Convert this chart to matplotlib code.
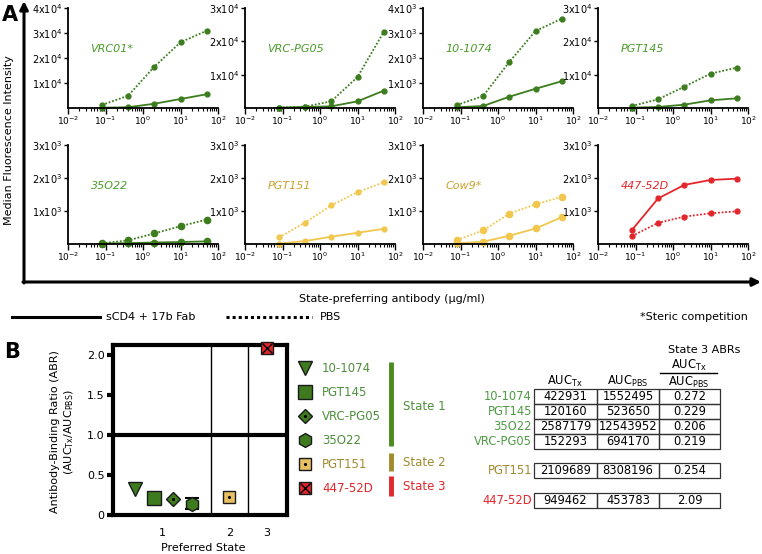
import matplotlib.pyplot as plt
import numpy as np
from matplotlib.ticker import LogLocator, NullFormatter
from matplotlib.patches import Rectangle

# ---- panel A data: MFI vs antibody concentration (ug/ml)
conc = [0.08, 0.4, 2, 10, 50]

names = ['VRC01*', 'VRC-PG05', '10-1074', 'PGT145',
         '35O22', 'PGT151', 'Cow9*', '447-52D']
groups = ['g', 'g', 'g', 'g', 'g', 'y', 'y', 'r']
ymax = [4e4, 3e4, 4e3, 3e4, 3e3, 3e3, 3e3, 3e3]

# sCD4 + 17b Fab
mfi_tx = [
    [100, 300, 1700, 3600, 5500],
    [100, 300, 500, 2000, 5200],
    [30, 80, 450, 770, 1070],
    [100, 300, 1000, 2300, 2900],
    [15, 25, 45, 60, 80],
    [10, 90, 220, 340, 460],
    [20, 70, 250, 470, 810],
    [420, 1380, 1790, 1940, 1980],
]
# PBS
mfi_pbs = [
    [1200, 4900, 16500, 26300, 30900],
    [100, 400, 2000, 9300, 22800],
    [120, 480, 1840, 3080, 3570],
    [600, 2600, 6400, 10300, 12100],
    [20, 110, 320, 540, 740],
    [200, 650, 1170, 1570, 1870],
    [120, 410, 920, 1200, 1430],
    [240, 640, 830, 930, 990],
]

# ---- panel B data
abr_names = ['10-1074', 'PGT145', 'VRC-PG05', '35O22', 'PGT151', '447-52D']
abr_state = [1, 1, 1, 1, 2, 3]
abr_val = [0.33, 0.21, 0.20, 0.14, 0.22, 2.09]
abr_err = [0, 0, 0, 0.07, 0, 0]

tbl_names = ['10-1074', 'PGT145', '35O22', 'VRC-PG05', 'PGT151', '447-52D']
tbl_groups = ['g', 'g', 'g', 'g', 'y', 'r']
auc_tx = [422931, 120160, 2587179, 152293, 2109689, 949462]
auc_pbs = [1552495, 523650, 12543952, 694170, 8308196, 453783]
ratio = ['0.272', '0.229', '0.206', '0.219', '0.254', '2.09']

line_col = {'g': '#3c7d1e', 'y': '#f1c74e', 'r': '#e3262b'}
lab_col = {'g': '#4b9b2b', 'y': '#c9a22f', 'r': '#e3262b'}
leg_col = {'g': '#4d8f3b', 'y': '#a08a30', 'r': '#e3262b'}

plt.rcParams['font.family'] = ['DejaVu Sans']
plt.rcParams['mathtext.default'] = 'regular'

W, H = 762, 554
fig = plt.figure(figsize=(7.62, 5.54), dpi=100)


def px_axes(x0, y0, x1, y1):
    return fig.add_axes([x0 / W, 1 - y1 / H, (x1 - x0) / W, (y1 - y0) / H])


ov = fig.add_axes([0, 0, 1, 1])
ov.set_xlim(0, W)
ov.set_ylim(H, 0)
ov.axis('off')

# ---- panel A
lefts = [68, 245, 423, 598]
rows = [(8, 108), (145, 244)]
for i, name in enumerate(names):
    r, c = divmod(i, 4)
    ax = px_axes(lefts[c], rows[r][0], lefts[c] + 150, rows[r][1])
    g = groups[i]
    ms = 4.5 if name in ('35O22', 'Cow9*') else 3.5
    ax.plot(conc, mfi_tx[i], '-', color=line_col[g], lw=1.3, marker='o', ms=ms, clip_on=False)
    ax.plot(conc, mfi_pbs[i], linestyle=(0, (1, 1)), color=line_col[g], lw=1.3,
            marker='o', ms=ms, clip_on=False)
    ax.set_xscale('log')
    ax.set_xlim(1e-2, 1e2)
    ax.set_ylim(0, ymax[i])
    ax.set_xticks([1e-2, 1e-1, 1, 10, 100])
    ax.set_xticklabels(['$10^{-2}$', '$10^{-1}$', '$10^{0}$', '$10^{1}$', '$10^{2}$'])
    ax.xaxis.set_minor_locator(LogLocator(base=10, subs=np.arange(2, 10)))
    ax.xaxis.set_minor_formatter(NullFormatter())
    e = int(np.floor(np.log10(ymax[i])))
    step = 10 ** e
    yt = np.arange(step, ymax[i] + step / 2, step)
    ax.set_yticks(yt)
    ax.set_yticklabels(['%dx$10^{%d}$' % (round(v / step), e) for v in yt])
    ax.tick_params(labelsize=7, width=1, pad=1)
    ax.tick_params(axis='x', labelsize=6.5)
    ax.tick_params(axis='x', which='major', length=4)
    ax.tick_params(axis='x', which='minor', length=2, width=0.8)
    ax.tick_params(axis='y', length=3)
    for s in ('top', 'right'):
        ax.spines[s].set_visible(False)
    for s in ('left', 'bottom'):
        ax.spines[s].set_linewidth(1.3)
    ax.patch.set_alpha(0)
    ax.text(0.15, 0.59, name, transform=ax.transAxes, style='italic',
            color=lab_col[g], fontsize=8, va='center')

# big axis arrows
ov.annotate('', xy=(24, 1), xytext=(24, 283),
            arrowprops=dict(arrowstyle='-|>', lw=2.2, color='k', mutation_scale=12,
                            shrinkA=0, shrinkB=0))
ov.annotate('', xy=(761, 282), xytext=(23, 282),
            arrowprops=dict(arrowstyle='-|>', lw=2.2, color='k', mutation_scale=12,
                            shrinkA=0, shrinkB=0))
ov.text(2, 15, 'A', fontsize=15, weight='bold', va='center')
ov.text(9, 140, 'Median Fluorescence Intensity', rotation=90, ha='center', va='center', fontsize=8)
ov.text(392, 299, 'State-preferring antibody (\u03bcg/ml)', ha='center', va='center', fontsize=8)

# line legend
ov.plot([12, 100], [317, 317], color='k', lw=2.2)
ov.text(106, 317, 'sCD4 + 17b Fab', va='center', fontsize=8)
ov.plot([226, 312], [317, 317], color='k', lw=2.2, linestyle=(0, (1, 1)))
ov.text(320, 317, 'PBS', va='center', fontsize=8)
ov.text(748, 317, '*Steric competition', ha='right', va='center', fontsize=8)

# ---- panel B
ov.text(4, 352, 'B', fontsize=15, weight='bold', va='center')
axb = px_axes(113, 345, 287, 515)
axb.set_xlim(0, 4.7)
axb.set_ylim(0, 2.125)
for s in axb.spines.values():
    s.set_linewidth(3)
axb.axhline(1.0, color='k', lw=3)
axb.axvline(2.65, color='k', lw=1)
axb.axvline(3.65, color='k', lw=1)
axb.set_yticks([0, 0.5, 1.0, 1.5, 2.0])
axb.set_yticklabels(['0', '0.5', '1.0', '1.5', '2.0'])
axb.set_xticks([1.32, 3.14, 4.14])
axb.set_xticklabels(['1', '2', '3'])
axb.tick_params(axis='y', width=3, length=4, labelsize=8, pad=2)
axb.tick_params(axis='x', length=0, labelsize=8, pad=9)

state_start = {1: 0.0, 2: 2.65, 3: 3.65}
offsets = [0.59, 1.11, 1.62, 2.13, 0.49, 0.51]
mk = ['v', 's', 'D', 'h', 's', 's']
msz = [10, 10, 7, 10, 9, 9]
abr_grp = ['g', 'g', 'g', 'g', 'y', 'r']
fill = {'g': '#3e7a1e', 'y': '#e8c064', 'r': '#e3262b'}
for i in range(len(abr_val)):
    x = state_start[abr_state[i]] + offsets[i]
    if abr_err[i]:
        axb.errorbar(x, abr_val[i], yerr=abr_err[i], fmt='none', ecolor='k',
                     elinewidth=1.2, capsize=5, capthick=1.5, zorder=3)
    axb.plot(x, abr_val[i], marker=mk[i], ms=msz[i], color=fill[abr_grp[i]],
             mec='#1a1a1a', mew=1, zorder=4, clip_on=False)
    if abr_names[i] in ('VRC-PG05', 'PGT151'):
        axb.plot(x, abr_val[i], marker='.', ms=2.5, color='k', zorder=5)
    if abr_names[i] == '447-52D':
        axb.plot(x, abr_val[i], marker='x', ms=7, color='k', mew=1, zorder=5, clip_on=False)

ov.text(63, 432, 'Antibody-Binding Ratio (ABR)\n(AUC$_{Tx}$/AUC$_{PBS}$)', rotation=90,
        ha='center', va='center', fontsize=8, multialignment='center')
ov.text(203, 548, 'Preferred State', ha='center', va='center', fontsize=8)

# marker legend
for i, nm in enumerate(abr_names):
    y = 368 + i * 24
    ov.plot(305, y, marker=mk[i], ms=msz[i], color=fill[abr_grp[i]], mec='#1a1a1a', mew=1)
    if nm in ('VRC-PG05', 'PGT151'):
        ov.plot(305, y, marker='.', ms=2.5, color='k')
    if nm == '447-52D':
        ov.plot(305, y, marker='x', ms=7, color='k', mew=1)
    ov.text(322, y, nm, va='center', fontsize=8.5, color=leg_col[abr_grp[i]])

ov.plot([391, 391], [362, 446], color='#4a8a1e', lw=3.5, solid_capstyle='butt')
ov.plot([391, 391], [453, 471], color='#a18b2c', lw=3.5, solid_capstyle='butt')
ov.plot([391, 391], [476, 496], color='#e3262b', lw=3.5, solid_capstyle='butt')
ov.text(403, 407, 'State 1', va='center', fontsize=8.5, color=leg_col['g'])
ov.text(403, 463, 'State 2', va='center', fontsize=8.5, color=leg_col['y'])
ov.text(403, 487, 'State 3', va='center', fontsize=8.5, color=leg_col['r'])

# table
ov.text(704, 350, 'State 3 ABRs', ha='center', va='center', fontsize=8)
ov.text(565, 381, 'AUC$_{Tx}$', ha='center', va='center', fontsize=8.3)
ov.text(628, 381, 'AUC$_{PBS}$', ha='center', va='center', fontsize=8.3)
ov.text(689, 365, 'AUC$_{Tx}$', ha='center', va='center', fontsize=8.3)
ov.plot([660, 717], [373, 373], color='k', lw=1)
ov.text(689, 382, 'AUC$_{PBS}$', ha='center', va='center', fontsize=8.3)

col_x = [534, 597, 659, 720]
row_top = [389, 404, 419, 434, 463, 493]
rh = 14.5
for j in range(len(tbl_names)):
    y0 = row_top[j]
    cells = [str(auc_tx[j]), str(auc_pbs[j]), ratio[j]]
    for k in range(3):
        ov.add_patch(Rectangle((col_x[k], y0), col_x[k + 1] - col_x[k], rh,
                               fill=False, ec='#333333', lw=0.9))
        ov.text((col_x[k] + col_x[k + 1]) / 2, y0 + rh / 2, cells[k],
                ha='center', va='center', fontsize=8.3)
    ov.text(532, y0 + rh / 2, tbl_names[j], ha='right', va='center', fontsize=8.3,
            color=leg_col[tbl_groups[j]] if tbl_groups[j] != 'g' else '#4e9a45')

fig.savefig('out.png', dpi=100)
